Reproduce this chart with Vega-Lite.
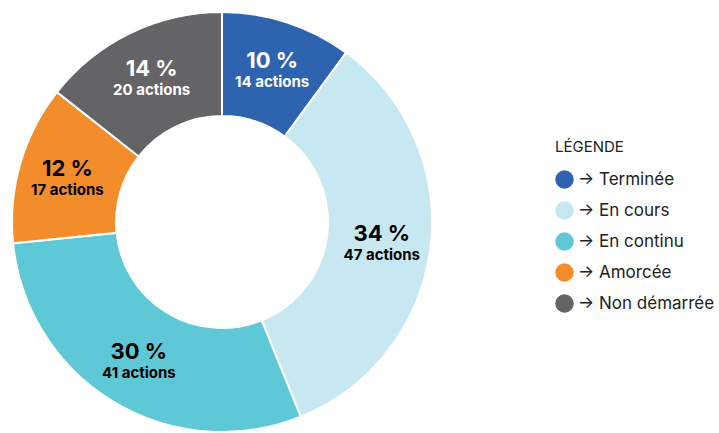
{
  "$schema": "https://vega.github.io/schema/vega-lite/v6.json",
  "width": 444,
  "height": 444,
  "padding": {"left": 0, "top": 0, "right": 275, "bottom": 0},
  "autosize": {"type": "none"},
  "background": "white",
  "config": {"view": {"stroke": null}, "font": "Inter"},
  "data": {"values": [
    {"statut": "Terminée", "actions": 14, "pct": "10 %", "lib": "14 actions", "ordre": 1, "txt": "white"},
    {"statut": "En cours", "actions": 47, "pct": "34 %", "lib": "47 actions", "ordre": 2, "txt": "black"},
    {"statut": "En continu", "actions": 41, "pct": "30 %", "lib": "41 actions", "ordre": 3, "txt": "black"},
    {"statut": "Amorcée", "actions": 17, "pct": "12 %", "lib": "17 actions", "ordre": 4, "txt": "black"},
    {"statut": "Non démarrée", "actions": 20, "pct": "14 %", "lib": "20 actions", "ordre": 5, "txt": "white"}
  ]},
  "encoding": {
    "theta": {"field": "actions", "type": "quantitative", "stack": true},
    "order": {"field": "ordre", "type": "quantitative"}
  },
  "layer": [
    {
      "mark": {"type": "arc", "outerRadius": 210, "innerRadius": 106, "stroke": "white", "strokeWidth": 2},
      "encoding": {
        "color": {
          "field": "statut", "type": "nominal",
          "sort": ["Terminée", "En cours", "En continu", "Amorcée", "Non démarrée"],
          "scale": {"domain": ["Terminée", "En cours", "En continu", "Amorcée", "Non démarrée"],
                    "range": ["#2e63b0", "#c8e8f1", "#5ec8d6", "#f38d2c", "#646466"]},
          "legend": {
            "title": "LÉGENDE",
            "orient": "none",
            "legendX": 555,
            "legendY": 140,
            "titleFont": "Inter",
            "titleFontSize": 15,
            "titleFontWeight": "normal",
            "titleColor": "#222222",
            "titlePadding": 15,
            "labelFont": "Inter",
            "labelFontSize": 17,
            "labelColor": "#222222",
            "labelExpr": "'→ ' + datum.label",
            "labelLimit": 300,
            "symbolType": "circle",
            "symbolSize": 340,
            "symbolStrokeWidth": 0,
            "rowPadding": 12,
            "labelOffset": 4
          }
        }
      }
    },
    {
      "mark": {"type": "text", "radius": 161, "dy": -8, "fontSize": 22, "fontWeight": "bold", "font": "Inter"},
      "encoding": {
        "text": {"field": "pct"},
        "color": {"field": "txt", "type": "nominal", "scale": null}
      }
    },
    {
      "mark": {"type": "text", "radius": 161, "dy": 13, "fontSize": 15, "fontWeight": "bold", "font": "Inter"},
      "encoding": {
        "text": {"field": "lib"},
        "color": {"field": "txt", "type": "nominal", "scale": null}
      }
    }
  ]
}
